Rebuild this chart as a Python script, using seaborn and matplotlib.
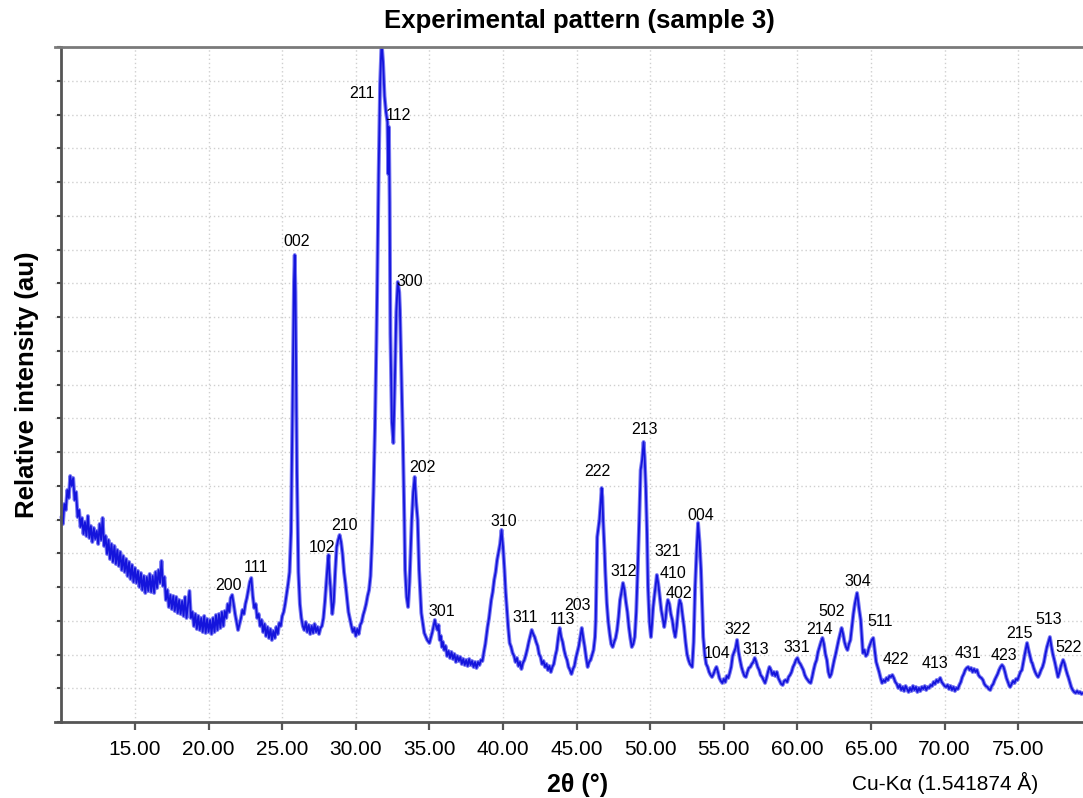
import numpy as np
import pandas as pd
import matplotlib
matplotlib.use('Agg')
import matplotlib.pyplot as plt
from matplotlib.ticker import MultipleLocator
import seaborn as sns

# ---- scan data: (2theta in degrees, relative intensity) ----
scan_low = [
    (10.0, 205), (10.1, 198), (10.2, 218), (10.3, 212), (10.4, 232), (10.5, 224), (10.6, 246), (10.7, 236),
    (10.8, 244), (10.9, 222), (11.0, 230), (11.1, 205), (11.2, 212), (11.3, 195), (11.4, 204), (11.5, 188),
    (11.6, 200), (11.7, 186), (11.8, 206), (11.9, 184), (12.0, 196), (12.1, 180), (12.2, 194), (12.3, 183),
    (12.4, 191), (12.5, 178), (12.6, 198), (12.7, 182), (12.8, 204), (12.9, 176), (13.0, 186), (13.1, 168),
    (13.2, 182), (13.3, 163), (13.4, 178), (13.5, 160), (13.6, 176), (13.7, 158), (13.8, 172), (13.9, 156),
    (14.0, 170), (14.1, 152), (14.2, 166), (14.3, 150), (14.4, 163), (14.5, 146), (14.6, 160), (14.7, 143),
    (14.8, 157), (14.9, 140), (15.0, 154), (15.1, 139), (15.2, 151), (15.3, 135), (15.4, 149), (15.5, 132),
    (15.6, 146), (15.7, 129), (15.8, 145), (15.9, 131), (16.0, 148), (16.1, 130), (16.2, 146), (16.3, 129),
    (16.4, 150), (16.5, 134), (16.6, 152), (16.7, 139), (16.8, 161), (16.9, 136), (17.0, 145), (17.1, 122),
    (17.2, 132), (17.3, 115), (17.4, 127), (17.5, 113), (17.6, 126), (17.7, 111), (17.8, 125), (17.9, 109),
    (18.0, 122), (18.1, 108), (18.2, 121), (18.3, 106), (18.4, 125), (18.5, 104), (18.6, 118), (18.7, 131),
    (18.8, 104), (18.9, 110), (19.0, 96), (19.1, 108), (19.2, 93), (19.3, 106), (19.4, 92), (19.5, 104),
    (19.6, 90), (19.7, 106), (19.8, 89), (19.9, 103), (20.0, 90), (20.1, 102), (20.2, 88), (20.3, 104),
    (20.4, 90), (20.5, 107), (20.6, 92), (20.7, 108), (20.8, 94), (20.9, 110), (21.0, 96), (21.1, 111),
    (21.2, 104), (21.3, 118), (21.4, 110), (21.5, 124), (21.6, 127), (21.7, 118), (21.8, 108), (21.9, 100),
    (22.0, 92), (22.1, 98), (22.2, 104), (22.3, 112), (22.4, 108), (22.5, 118), (22.6, 124), (22.7, 132),
    (22.8, 140), (22.9, 144), (23.0, 126), (23.1, 114), (23.2, 118), (23.3, 104), (23.4, 108), (23.5, 96),
    (23.6, 102), (23.7, 90), (23.8, 98), (23.9, 86), (24.0, 95), (24.1, 84), (24.2, 93), (24.3, 82),
    (24.4, 91), (24.5, 84), (24.6, 95), (24.7, 88), (24.8, 99), (24.9, 96), (25.0, 106), (25.1, 110),
    (25.2, 118), (25.3, 128), (25.4, 138), (25.5, 150), (25.6, 190), (25.7, 318), (25.8, 440), (25.85, 467),
    (25.9, 430), (25.95, 345), (26.0, 250), (26.05, 198), (26.1, 150), (26.2, 118), (26.3, 104), (26.4, 96),
]

scan_main = [
    (26.5, 92), (26.6, 100), (26.7, 90), (26.8, 97), (26.9, 88), (27.0, 96), (27.1, 89), (27.2, 98),
    (27.3, 90), (27.4, 95), (27.5, 88), (27.6, 94), (27.7, 96), (27.8, 104), (27.9, 120), (28.0, 140),
    (28.1, 160), (28.15, 167), (28.2, 150), (28.3, 130), (28.4, 108), (28.5, 120), (28.6, 150), (28.7, 175),
    (28.8, 182), (28.9, 187), (29.0, 180), (29.1, 168), (29.2, 150), (29.3, 138), (29.4, 124), (29.5, 110),
    (29.6, 103), (29.7, 96), (29.8, 90), (29.9, 94), (30.0, 86), (30.1, 93), (30.2, 88), (30.3, 97),
    (30.4, 100), (30.5, 107), (30.6, 112), (30.7, 118), (30.8, 126), (30.9, 132), (31.0, 146), (31.1, 180),
    (31.2, 230), (31.3, 294), (31.4, 380), (31.45, 431), (31.55, 548), (31.65, 638), (31.75, 680), (31.85, 660),
    (31.95, 626), (32.05, 610), (32.15, 600), (32.2, 548), (32.25, 595), (32.3, 520), (32.35, 388), (32.45, 300),
    (32.55, 279), (32.65, 340), (32.75, 410), (32.85, 440), (32.95, 430), (33.0, 412), (33.1, 345), (33.2, 280),
    (33.3, 200), (33.35, 152), (33.45, 125), (33.55, 115), (33.65, 140), (33.8, 202), (33.9, 230), (34.0, 245),
    (34.1, 220), (34.2, 202), (34.3, 152), (34.45, 109), (34.65, 89), (34.85, 82), (35.0, 79),
]

scan_high = [
    (35.2, 90), (35.37, 102), (35.45, 96), (35.55, 92), (35.62, 97), (35.7, 82), (35.78, 86), (35.85, 75),
    (35.92, 80), (36.0, 72), (36.1, 76), (36.2, 66), (36.3, 71), (36.4, 64), (36.5, 70), (36.6, 63),
    (36.7, 68), (36.8, 60), (36.9, 66), (37.0, 61), (37.1, 65), (37.2, 58), (37.3, 63), (37.4, 57),
    (37.5, 62), (37.6, 56), (37.7, 63), (37.8, 57), (37.9, 61), (38.0, 55), (38.1, 60), (38.2, 54),
    (38.3, 60), (38.4, 57), (38.5, 62), (38.6, 61), (38.7, 70), (38.8, 78), (38.95, 95), (39.05, 104),
    (39.2, 122), (39.3, 130), (39.4, 142), (39.5, 150), (39.6, 162), (39.7, 170), (39.8, 178), (39.9, 192),
    (40.0, 175), (40.1, 152), (40.18, 130), (40.25, 115), (40.35, 95), (40.45, 79), (40.55, 75), (40.65, 69),
    (40.75, 66), (40.85, 60), (40.95, 64), (41.05, 56), (41.15, 60), (41.25, 53), (41.35, 59), (41.45, 62),
    (41.55, 67), (41.65, 73), (41.75, 80), (41.85, 86), (41.95, 92), (42.05, 88), (42.15, 85), (42.25, 80),
    (42.35, 76), (42.45, 68), (42.55, 65), (42.65, 58), (42.75, 61), (42.85, 55), (42.95, 58), (43.05, 52),
    (43.15, 56), (43.25, 50), (43.35, 55), (43.45, 58), (43.55, 66), (43.65, 72), (43.75, 84), (43.85, 94),
    (43.95, 85), (44.05, 80), (44.15, 72), (44.25, 66), (44.35, 62), (44.45, 55), (44.55, 52), (44.65, 48),
    (44.75, 53), (44.85, 56), (44.95, 64), (45.05, 70), (45.15, 76), (45.25, 85), (45.35, 94), (45.45, 84),
    (45.55, 75), (45.65, 64), (45.75, 55), (45.85, 60), (45.95, 62), (46.05, 67), (46.15, 72), (46.25, 85),
    (46.3, 102), (46.4, 185), (46.5, 196), (46.55, 202), (46.65, 222), (46.7, 234), (46.75, 225), (46.8, 202),
    (46.9, 170), (46.95, 150), (47.05, 119), (47.15, 100), (47.25, 88), (47.35, 78), (47.45, 75), (47.55, 80),
    (47.65, 84), (47.75, 92), (47.85, 105), (47.95, 122), (48.05, 130), (48.15, 139), (48.25, 132), (48.35, 120),
    (48.45, 110), (48.55, 95), (48.65, 84), (48.75, 75), (48.85, 78), (48.95, 85), (49.05, 110), (49.15, 152),
    (49.25, 200), (49.35, 252), (49.45, 262), (49.55, 280), (49.62, 265), (49.7, 235), (49.78, 190), (49.85, 135),
    (49.95, 100), (50.05, 85), (50.12, 98), (50.2, 115), (50.3, 128), (50.4, 140), (50.45, 147), (50.55, 138),
    (50.65, 125), (50.75, 112), (50.85, 104), (50.95, 95), (51.05, 104), (51.12, 115), (51.2, 122), (51.3, 118),
    (51.4, 108), (51.5, 102), (51.6, 92), (51.7, 85), (51.8, 96), (51.9, 112), (52.0, 122), (52.1, 118),
    (52.2, 106), (52.3, 95), (52.4, 80), (52.5, 68), (52.6, 62), (52.7, 58), (52.85, 55), (52.95, 80),
    (53.05, 135), (53.15, 170), (53.25, 199), (53.35, 180), (53.45, 152), (53.52, 120), (53.6, 85), (53.7, 68),
    (53.8, 58), (53.9, 55), (54.0, 50), (54.1, 47), (54.2, 45), (54.3, 48), (54.4, 52), (54.5, 55),
    (54.6, 50), (54.7, 44), (54.8, 41), (54.9, 39), (55.0, 43), (55.1, 40), (55.2, 46), (55.3, 44),
    (55.4, 49), (55.5, 55), (55.6, 66), (55.7, 70), (55.8, 74), (55.9, 82), (56.0, 70), (56.1, 62),
    (56.2, 55), (56.3, 50), (56.4, 46), (56.5, 45), (56.6, 50), (56.7, 54), (56.8, 55), (56.9, 58),
    (57.0, 60), (57.1, 64), (57.2, 60), (57.3, 55), (57.4, 52), (57.5, 47), (57.6, 45), (57.7, 42),
    (57.8, 39), (57.9, 44), (58.0, 50), (58.1, 55), (58.2, 52), (58.3, 47), (58.4, 50), (58.5, 46),
    (58.6, 50), (58.7, 44), (58.8, 41), (58.9, 38), (59.0, 37), (59.1, 41), (59.2, 42), (59.3, 40),
    (59.4, 45), (59.5, 47), (59.6, 50), (59.7, 55), (59.8, 58), (59.9, 62), (60.0, 64), (60.1, 60),
    (60.2, 58), (60.3, 55), (60.4, 52), (60.5, 47), (60.6, 44), (60.7, 42), (60.8, 40), (60.9, 39),
    (61.0, 45), (61.1, 52), (61.2, 58), (61.3, 62), (61.4, 70), (61.5, 75), (61.6, 80), (61.7, 84),
    (61.8, 78), (61.9, 68), (62.0, 62), (62.1, 50), (62.2, 45), (62.3, 48), (62.4, 55), (62.5, 62),
    (62.6, 68), (62.7, 75), (62.8, 82), (62.9, 88), (63.0, 94), (63.1, 88), (63.2, 80), (63.3, 75),
    (63.4, 72), (63.5, 78), (63.6, 82), (63.7, 95), (63.8, 108), (63.9, 118), (64.0, 125), (64.05, 129),
    (64.1, 124), (64.2, 112), (64.3, 102), (64.4, 80), (64.45, 69), (64.55, 72), (64.65, 66), (64.75, 68),
    (64.85, 74), (64.95, 78), (65.05, 82), (65.15, 84), (65.25, 72), (65.35, 60), (65.45, 55), (65.55, 50),
    (65.65, 44), (65.75, 39), (65.85, 42), (65.95, 40), (66.05, 44), (66.15, 42), (66.25, 46), (66.35, 45),
    (66.45, 47), (66.55, 44), (66.65, 40), (66.75, 38), (66.85, 34), (66.95, 37), (67.05, 32), (67.15, 35),
    (67.25, 31), (67.35, 36), (67.45, 33), (67.55, 30), (67.65, 34), (67.75, 31), (67.85, 36), (67.95, 32),
    (68.05, 35), (68.15, 30), (68.25, 34), (68.35, 31), (68.45, 35), (68.55, 33), (68.65, 36), (68.75, 32),
    (68.85, 35), (68.95, 34), (69.05, 37), (69.15, 36), (69.25, 40), (69.35, 38), (69.45, 42), (69.55, 40),
    (69.7, 44), (69.8, 40), (69.9, 38), (70.0, 36), (70.1, 35), (70.2, 37), (70.3, 33), (70.4, 36),
    (70.5, 32), (70.6, 35), (70.7, 31), (70.8, 34), (70.9, 33), (71.0, 37), (71.1, 40), (71.2, 45),
    (71.3, 48), (71.4, 52), (71.5, 54), (71.6, 55), (71.7, 52), (71.8, 54), (71.9, 50), (72.0, 53),
    (72.1, 50), (72.2, 52), (72.3, 47), (72.4, 45), (72.5, 44), (72.6, 42), (72.7, 38), (72.8, 36),
    (72.9, 35), (73.0, 33), (73.1, 32), (73.2, 36), (73.3, 38), (73.4, 42), (73.5, 45), (73.6, 48),
    (73.7, 52), (73.8, 55), (73.9, 57), (74.0, 55), (74.1, 50), (74.2, 44), (74.3, 40), (74.4, 36),
    (74.45, 35), (74.55, 38), (74.65, 41), (74.75, 39), (74.85, 43), (74.95, 42), (75.05, 46), (75.15, 50),
    (75.25, 52), (75.35, 60), (75.45, 68), (75.55, 75), (75.6, 79), (75.7, 72), (75.8, 66), (75.9, 60),
    (75.95, 59), (76.05, 54), (76.15, 50), (76.25, 47), (76.35, 45), (76.45, 48), (76.55, 52), (76.65, 55),
    (76.75, 60), (76.85, 68), (76.95, 75), (77.05, 80), (77.15, 85), (77.25, 76), (77.35, 68), (77.45, 62),
    (77.5, 59), (77.6, 52), (77.7, 45), (77.8, 50), (77.9, 56), (78.0, 60), (78.05, 62), (78.15, 58),
    (78.25, 52), (78.35, 47), (78.4, 45), (78.5, 40), (78.6, 35), (78.7, 32), (78.8, 30), (78.9, 29),
    (79.0, 31), (79.1, 29), (79.2, 30), (79.3, 28), (79.4, 29),
]

# ---- Miller index annotations (label, 2theta, intensity of label centre) ----
hkl_labels = ['200', '111', '002', '102', '210', '211', '112', '300', '202', '301',
              '310', '311', '113', '203', '222', '213', '312', '321', '410', '402',
              '004', '104', '322', '313', '331', '214', '502', '304', '511', '422',
              '413', '431', '423', '215', '513', '522']
hkl_x = [21.32, 23.22, 26.0, 27.7, 29.2, 30.42, 32.87, 33.68, 34.5, 35.86,
         40.07, 41.5, 44.07, 45.09, 46.38, 49.58, 48.22, 51.21, 51.55, 51.96,
         53.45, 54.54, 55.97, 57.19, 59.97, 61.47, 62.35, 64.1, 65.61, 66.7,
         69.35, 71.59, 74.04, 75.12, 77.1, 78.45]
hkl_y = [137, 154, 480, 174, 196, 629, 607, 440, 255, 111,
         201, 105, 103, 116, 251, 293, 151, 170, 148, 129,
         206, 69, 93, 72, 75, 92, 110, 140, 101, 62,
         59, 68, 66, 89, 103, 74]

x_ticks = [15, 20, 25, 30, 35, 40, 45, 50, 55, 60, 65, 70, 75]
x_tick_labels = ['15.00', '20.00', '25.00', '30.00', '35.00', '40.00', '45.00',
                 '50.00', '55.00', '60.00', '65.00', '70.00', '75.00']

title_text = 'Experimental pattern (sample 3)'
x_label = '2θ (°)'
y_label = 'Relative intensity (au)'
radiation_text = 'Cu-Kα (1.541874 Å)'

# ---- styling ----
sns.set_theme(style='white')
plt.rcParams['font.family'] = ['Liberation Sans', 'DejaVu Sans']
plt.rcParams['text.color'] = 'black'

W, H = 1083, 798
fig = plt.figure(figsize=(W / 100, H / 100), dpi=100)
ax = fig.add_axes([55 / W, 76 / H, (W - 55) / W, 675 / H])

df = pd.DataFrame(scan_low + scan_main + scan_high, columns=['two_theta', 'intensity'])
sns.lineplot(data=df, x='two_theta', y='intensity', sort=False, estimator=None,
             color='#7a7af2', lw=2.8, ax=ax)
sns.lineplot(data=df, x='two_theta', y='intensity', sort=False, estimator=None,
             color='#1414dc', lw=1.3, ax=ax)

ax.set_xlim(9.565, 79.4)
ax.set_ylim(0, 675)
ax.set_xticks(x_ticks)
ax.set_xticklabels(x_tick_labels, fontsize=15, color='black')
ax.yaxis.set_major_locator(MultipleLocator(33.75))
ax.set_yticklabels([])
ax.set_xlabel('')
ax.set_ylabel('')

ax.grid(True, linestyle=(0, (1, 2)), color='#cfcfcf', lw=1.0)
ax.set_axisbelow(True)

for side in ['left', 'bottom', 'top']:
    ax.spines[side].set_visible(True)
    ax.spines[side].set_color('#555555')
    ax.spines[side].set_linewidth(2.0)
ax.spines['top'].set_color('#7a7a7a')
ax.spines['right'].set_visible(False)
ax.spines['left'].set_position(('data', 10))

ax.tick_params(axis='x', which='major', direction='out', length=6, width=1.6,
               color='#555555', pad=7, bottom=True, labelcolor='black')
ax.tick_params(axis='y', which='major', direction='out', length=3, width=1.5,
               color='#444444', left=True, labelleft=False)

for lab, xx, yy in zip(hkl_labels, hkl_x, hkl_y):
    ax.text(xx, yy, lab, ha='center', va='center', fontsize=11.5, color='black', clip_on=False)

fig.text(579 / W, 1 - 21 / H, title_text, ha='center', va='center',
         fontsize=18.5, fontweight='bold', color='black')
fig.text(578 / W, 1 - 785 / H, x_label, ha='center', va='center',
         fontsize=18, fontweight='bold', color='black')
fig.text(27 / W, 1 - 385 / H, y_label, ha='center', va='center', rotation=90,
         fontsize=18.5, fontweight='bold', color='black')
fig.text(945 / W, 1 - 783 / H, radiation_text, ha='center', va='center', fontsize=15,
         color='black')

fig.savefig('out.png', dpi=100)
